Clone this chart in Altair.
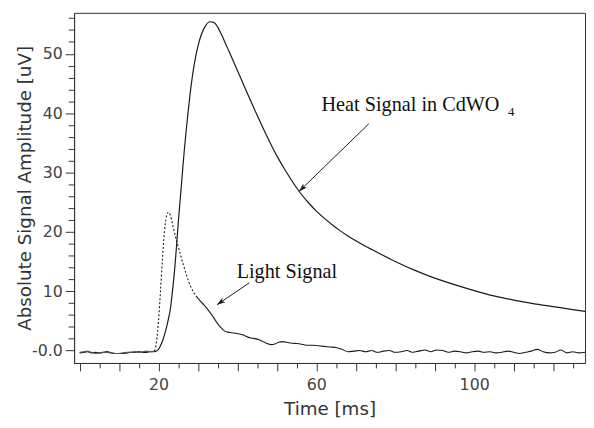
import math
import altair as alt
import pandas as pd

# ---------------- data ----------------
heat_ms = [0, 1, 2, 3, 4, 5, 6, 7, 8, 9, 10, 11, 12, 13, 14, 15, 16, 17, 18, 19, 19.5,
           20, 20.5, 21, 21.5, 22, 22.5, 23, 23.5, 24, 24.5, 25, 25.5, 26, 26.5, 27, 27.5,
           28, 28.5, 29, 30, 31, 32, 33, 34, 35, 36, 37, 38, 39, 40, 42, 44, 46, 48, 50,
           52, 54, 56, 58, 60, 62, 64, 66, 68, 70, 72, 75, 80, 85, 90, 95, 100, 105, 110, 115,
           120, 125, 128.1]
heat_val = [-0.4, -0.3, -0.2, -0.4, -0.3, -0.4, -0.3, -0.2, -0.4, -0.5, -0.5, -0.5, -0.4, -0.3,
            -0.3, -0.2, -0.3, -0.3, -0.2, -0.2, -0.1,
            0.2, 0.8, 1.6, 2.6, 3.8, 5.3, 7.0, 9.8, 13.0, 17.0, 21.5, 25.5, 29.5, 33.5, 37.0, 40.2,
            43.2, 45.8, 48.0, 51.3, 53.5, 54.8, 55.4, 55.3, 54.5, 53.2, 51.7, 50.2, 48.7, 47.2,
            44.1, 41.1, 38.2, 35.4, 32.8, 30.5, 28.4, 26.5, 24.9, 23.5, 22.3, 21.2, 20.2, 19.3,
            18.5, 17.75, 16.7, 15.0, 13.5, 12.2, 11.1, 10.1, 9.2, 8.5, 7.9, 7.4, 6.9, 6.6]

light_base_ms = [0, 1, 2, 3, 4, 5, 6, 7, 8, 9, 10, 11, 12, 13, 14, 15, 16, 17, 18, 19]
light_base_val = [-0.3, -0.2, -0.1, -0.3, -0.5, -0.4, -0.3, -0.3, -0.4, -0.5, -0.5, -0.4,
                  -0.3, -0.3, -0.2, -0.3, -0.2, -0.1, -0.2, -0.1]

light_rise_ms = [19, 19.5, 20, 20.5, 21, 21.5, 22, 22.5, 23, 23.5, 24, 24.5, 25, 25.5, 26,
                 26.5, 27, 27.5, 28, 28.5, 29, 29.5]
light_rise_val = [-0.1, 1.5, 5.0, 10.0, 15.5, 20.0, 22.6, 23.3, 22.8, 21.5, 20.0, 18.7, 17.5,
                  16.3, 15.1, 14.0, 12.9, 11.9, 11.0, 10.3, 9.7, 9.2]

light_tail_ms = [29.5, 30.5, 31.5, 32.5, 33.5, 34.5, 35.5, 36.5, 37.5, 38.5, 39.5, 40.5, 41.5,
                 42.5, 43.5, 44.5, 45.5, 46.5, 47.5, 48.5, 49.5, 50.5, 51.5, 53, 54.5, 56, 57.5,
                 59, 60.5, 62, 63.5, 65, 66.5, 68, 69.5, 71, 72.5, 74, 75.5, 77, 78.5, 80, 81.5,
                 83, 84.5, 86, 87.5, 89, 90.5, 92, 93.5, 95, 96.5, 98, 99.5, 101, 102.5, 104,
                 105.5, 107, 108.5, 110, 111.5, 113, 114.5, 116, 117.5, 119, 120.5, 122, 123.5,
                 125, 126.5, 128.1]
light_tail_val = [9.2, 8.4, 7.7, 6.9, 6.0, 5.0, 4.1, 3.4, 3.1, 3.0, 2.9, 2.8, 2.6, 2.3, 2.1,
                  2.0, 1.8, 1.5, 1.2, 1.0, 1.1, 1.4, 1.5, 1.3, 1.2, 1.1, 0.9, 0.9, 0.8, 0.7, 0.6,
                  0.5, 0.2, -0.2, -0.1, 0.0, -0.2, 0.0, -0.3, -0.1, 0.0, -0.3, -0.2, 0.0, -0.3,
                  -0.1, 0.1, -0.2, 0.1, 0.0, -0.3, -0.1, -0.2, -0.4, -0.2, -0.1, -0.3, -0.2,
                  -0.4, -0.3, -0.1, -0.3, -0.5, -0.3, -0.1, 0.2, -0.2, -0.4, -0.3, 0.1, -0.4,
                  -0.2, -0.4, -0.3]

x_domain = [-1.4, 128.1]
y_domain = [-2.1, 56.9]
x_major_ticks = list(range(0, 130, 10))
x_minor_ticks = list(range(5, 130, 10))
x_label_values = [20, 60, 100]
y_major_ticks = [0, 10, 20, 30, 40, 50]
y_minor_ticks = [v for v in range(0, 57, 2) if v % 10 != 0]

label_text = ["Heat Signal in CdWO", "Light Signal"]
label_ms = [61.3, 39.8]
label_val = [40.3, 12.3]
sub_text = ["4"]
sub_ms = [108.6]
sub_val = [39.5]

arrow_ms = [73.3, 43.0]
arrow_val = [38.2, 11.4]
arrow_ms2 = [55.6, 34.8]
arrow_val2 = [26.8, 7.7]

# ---------------- geometry ----------------
W, H = 518, 355
px_per_ms = W / (x_domain[1] - x_domain[0])
px_per_val = H / (y_domain[1] - y_domain[0])
angles = [
    math.degrees(math.atan2(-(v2 - v1) * px_per_val, (m2 - m1) * px_per_ms)) % 360
    for m1, v1, m2, v2 in zip(arrow_ms, arrow_val, arrow_ms2, arrow_val2)
]

heat_df = pd.DataFrame({"t": heat_ms, "v": heat_val})
base_df = pd.DataFrame({"t": light_base_ms, "v": light_base_val})
rise_df = pd.DataFrame({"t": light_rise_ms, "v": light_rise_val})
tail_df = pd.DataFrame({"t": light_tail_ms, "v": light_tail_val})
lab_df = pd.DataFrame({"t": label_ms, "v": label_val, "txt": label_text})
sub_df = pd.DataFrame({"t": sub_ms, "v": sub_val, "txt": sub_text})
arr_df = pd.DataFrame({"t": arrow_ms, "v": arrow_val, "t2": arrow_ms2, "v2": arrow_val2,
                       "ang": angles})

xlab_test = " || ".join(f"datum.value === {v}" for v in x_label_values)

x_scale = alt.Scale(domain=x_domain, nice=False, zero=False)
y_scale = alt.Scale(domain=y_domain, nice=False, zero=False)

x_axis_major = alt.Axis(
    orient="bottom",
    values=x_major_ticks,
    labelExpr=f"({xlab_test}) ? datum.label : ''",
    tickSize=8,
    labelPadding=6,
    labelOverlap=False,
    grid=False,
    title="Time [ms]",
    titleX=W / 2,
    titleY=46,
    titleBaseline="middle",
    titleAlign="center",
)
x_axis_minor = alt.Axis(
    orient="bottom", values=x_minor_ticks, tickSize=5, labels=False, grid=False,
    title=None, domain=False,
)
y_axis_major = alt.Axis(
    orient="left",
    values=y_major_ticks,
    labelExpr="datum.value === 0 ? '-0.0' : datum.label",
    tickSize=9,
    labelPadding=3,
    labelOverlap=False,
    grid=False,
    title="Absolute Signal Amplitude [uV]",
    titleX=-50,
    titleY=H / 2,
    titleAngle=270,
    titleBaseline="middle",
    titleAlign="center",
)
y_axis_minor = alt.Axis(
    orient="left", values=y_minor_ticks, tickSize=6, labels=False, grid=False,
    title=None, domain=False,
)

Xn = alt.X("t:Q", scale=x_scale, axis=None)
Yn = alt.Y("v:Q", scale=y_scale, axis=None)

ink = "#1a1a1a"
heat = alt.Chart(heat_df).mark_line(color=ink, strokeWidth=1.2, interpolate="monotone").encode(
    x=alt.X("t:Q", scale=x_scale, axis=x_axis_major),
    y=alt.Y("v:Q", scale=y_scale, axis=y_axis_major))
base = alt.Chart(base_df).mark_line(color="#555555", strokeWidth=1.2).encode(
    x=alt.X("t:Q", scale=x_scale, axis=x_axis_minor),
    y=alt.Y("v:Q", scale=y_scale, axis=y_axis_minor))
rise = alt.Chart(rise_df).mark_line(color=ink, strokeWidth=1.1, strokeDash=[2, 2],
                                    interpolate="monotone").encode(x=Xn, y=Yn)
tail = alt.Chart(tail_df).mark_line(color=ink, strokeWidth=1.1, interpolate="monotone").encode(
    x=Xn, y=Yn)

labels = alt.Chart(lab_df).mark_text(
    font="Liberation Serif", fontSize=20.5, align="left", baseline="alphabetic", color="#111111"
).encode(x=Xn, y=Yn, text="txt:N")
subs = alt.Chart(sub_df).mark_text(
    font="Liberation Serif", fontSize=13, align="left", baseline="alphabetic", color="#111111"
).encode(x=Xn, y=Yn, text="txt:N")

arrow_lines = alt.Chart(arr_df).mark_rule(color=ink, strokeWidth=1).encode(
    x=Xn, y=Yn, x2="t2:Q", y2="v2:Q")
arrow_heads = alt.Chart(arr_df).mark_point(
    shape="M0,0 L-1,-0.32 L-0.75,0 L-1,0.32 Z", filled=True, color=ink, size=300, opacity=1
).encode(x=alt.X("t2:Q", scale=x_scale, axis=None), y=alt.Y("v2:Q", scale=y_scale, axis=None),
         angle=alt.Angle("ang:Q", scale=None))

chart = alt.layer(heat, base, rise, tail, arrow_lines, arrow_heads, labels, subs).resolve_axis(
    x="independent", y="independent"
).properties(
    width=W, height=H,
    autosize=alt.AutoSizeParams(type="none"),
    padding={"left": 67, "top": 2, "right": 1, "bottom": 62},
).configure_view(
    stroke="#333333", strokeWidth=1
).configure_axis(
    labelFont="DejaVu Sans", labelFontSize=16, labelColor="#444444",
    titleFont="DejaVu Sans", titleFontSize=18.5, titleColor="#333333", titleFontWeight="normal",
    domainColor="#333333", tickColor="#333333", tickWidth=1, domainWidth=1,
)

chart.save("out.html", embed_options={"renderer": "svg", "actions": False})
